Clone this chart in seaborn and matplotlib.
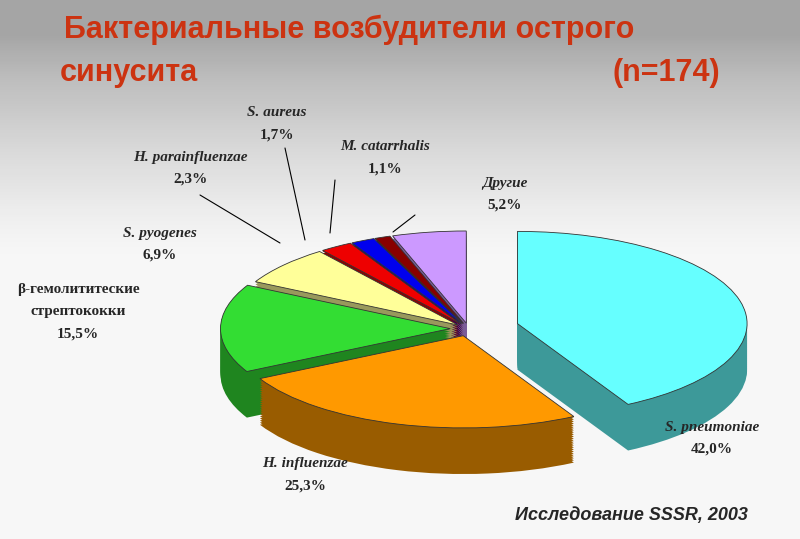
import numpy as np
import seaborn as sns
import matplotlib.pyplot as plt
from matplotlib.colors import to_rgb

# данные
labels = ['S. pneumoniae', 'H. influenzae', 'β-гемолититеские\nстрептококки', 'S. pyogenes',
          'H. parainfluenzae', 'S. aureus', 'M. catarrhalis', 'Другие']
values = [42.0, 25.3, 15.5, 6.9, 2.3, 1.7, 1.1, 5.2]
value_text = ['42,0%', '25,3%', '15,5%', '6,9%', '2,3%', '1,7%', '1,1%', '5,2%']
colors = ['#66FFFF', '#FF9900', '#33DD33', '#FFFF99', '#EE0000', '#0000EE', '#880000', '#CC99FF']
explode = [0.22, 0.08, 0.08, 0.06, 0.06, 0.06, 0.06, 0.06]

sns.set_theme(style='white')
plt.rcParams['font.family'] = ['Liberation Serif', 'DejaVu Serif']

fig = plt.figure(figsize=(8, 5.39), dpi=100)

# фон с градиентом (серый сверху, белый снизу)
bg = fig.add_axes([0, 0, 1, 1])
grad = np.linspace(0, 1, 256)
grad = np.clip(grad * 2.4 - 1.25, 0, 1)[:, None]
bg.imshow(grad, cmap='Greys', vmin=-0.15, vmax=2.4, aspect='auto', extent=[0, 1, 0, 1], origin='lower')
bg.set_xlim(0, 1)
bg.set_ylim(0, 1)
bg.axis('off')

ax = fig.add_axes([0.2125, 0.108, 0.775, 0.479])
ax.set_facecolor('none')

def darker(c, f):
    return tuple(np.array(to_rgb(c)) * f)

depth = 0.5
for d in np.linspace(depth, 0.01, 22):
    ax.pie(values, colors=[darker(c, 0.6) for c in colors], explode=explode,
           startangle=90, counterclock=False, center=(0, -d),
           wedgeprops=dict(linewidth=0))
ax.pie(values, colors=colors, explode=explode, startangle=90, counterclock=False,
       wedgeprops=dict(linewidth=0.6, edgecolor='#333333'))
ax.set_aspect('auto')
ax.set_xlim(-1.3, 1.4)
ax.set_ylim(-1.65, 1.15)
ax.axis('off')

# подписи (пиксели от верхнего левого угла)
lab_pos = [(712, 427), (305, 464), (78, 290), (160, 233),
           (190, 157), (277, 113), (385, 147), (505, 183)]
W, H = 800, 539
for (x, y), lab, vt in zip(lab_pos, labels, value_text):
    if '\n' in lab:
        for i, line in enumerate(lab.split('\n') + [vt]):
            fig.text(x / W, 1 - (y + 22 * i) / H, line, ha='center', va='center',
                     fontsize=11, fontweight='bold')
    else:
        fig.text(x / W, 1 - y / H, lab, ha='center', va='center', fontsize=11,
                 fontweight='bold', style='italic')
        fig.text(x / W, 1 - (y + 22) / H, vt, ha='center', va='center', fontsize=11,
                 fontweight='bold')

# выноски
for (x0, y0), (x1, y1) in [((200, 195), (280, 243)), ((285, 148), (305, 240)),
                           ((335, 180), (330, 233)), ((415, 215), (393, 232))]:
    bg.plot([x0 / W, x1 / W], [1 - y0 / H, 1 - y1 / H], color='black', lw=0.8)

title_kw = dict(fontsize=22, fontweight='bold', color='#CC3311', family=['Liberation Sans', 'DejaVu Sans'])
fig.text(0.08, 0.93, 'Бактериальные возбудители острого', **title_kw)
fig.text(0.075, 0.85, 'синусита', **title_kw)
fig.text(0.765, 0.85, '(n=174)', **title_kw)
fig.text(0.935, 0.035, 'Исследование SSSR, 2003', ha='right', fontsize=13, fontweight='bold',
         style='italic', family=['Liberation Sans', 'DejaVu Sans'])

fig.savefig('out.png', dpi=100)
